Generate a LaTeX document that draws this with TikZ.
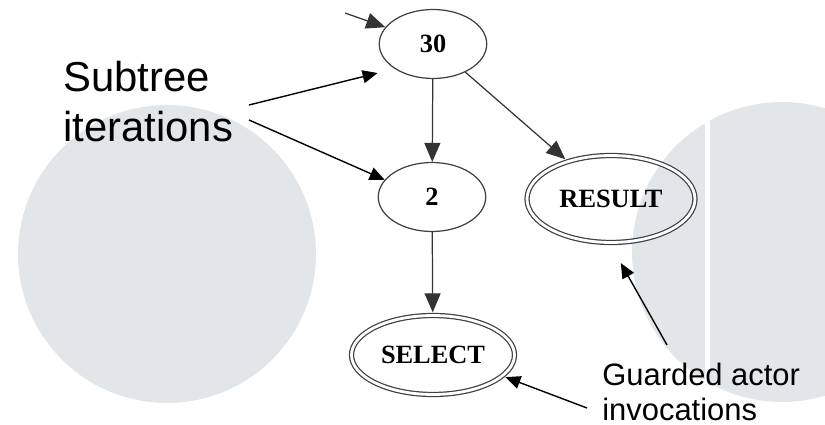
\documentclass[tikz,border=0pt]{standalone}
\usepackage{fontspec}
\setmainfont{Liberation Serif}
\setsansfont{Liberation Sans}
\usetikzlibrary{arrows.meta,shapes.geometric}
\definecolor{discgray}{HTML}{E2E6E9}

\begin{document}
\begin{tikzpicture}[x=0.02cm,y=-0.02cm]
\tikzset{
  itnode/.style={ellipse,draw=black!75,line width=0.7pt,minimum width=2.15cm,minimum height=1.38cm,inner sep=0pt,font=\fontsize{15}{17}\selectfont\bfseries},
  guardnode/.style={itnode,double=white,double distance=1.6pt,outer sep=1.8pt,minimum width=3.26cm,minimum height=1.58cm},
  flow/.style={-{Triangle[length=3.8mm,width=3.2mm]},draw=black!80,line width=0.7pt},
  note/.style={-{Triangle[length=3mm,width=2.6mm]},line width=0.8pt},
  bigtext/.style={font=\sffamily\fontsize{23.8}{28.5}\selectfont,align=left,inner sep=0pt,anchor=north west},
  smalltext/.style={font=\sffamily\fontsize{17.6}{20}\selectfont,align=left,inner sep=0pt,anchor=north west}
}
\useasboundingbox (0,0) rectangle (825,425);
% background discs
\fill[discgray] (167,254) circle[radius=2.98cm];
\fill[discgray] (782,252) circle[radius=3cm];
\fill[white] (705,95) rectangle (710,410);
% iteration tree
\node[itnode] (n_30) at (433,44) {30};
\node[itnode] (n_2) at (432,197) {2};
\node[guardnode,minimum width=3.36cm,minimum height=1.74cm] (n_result) at (611,199) {RESULT};
\node[guardnode] (n_select) at (433,355) {SELECT};
\coordinate (entry) at (345,13);
\draw[flow] (entry) -- (n_30);
\draw[flow] (n_30) -- (n_2);
\draw[flow] (n_30) -- (n_result);
\draw[flow] (n_2) -- (n_select);
% labels
\node[bigtext] (lbl_sub) at (63,61) {Subtree\\iterations};
\coordinate (sub_a) at (249,105);
\coordinate (sub_b) at (249,120);
\draw[note,shorten >=0.35cm] (sub_a) -- (n_30.south west);
\draw[note] (sub_b) -- (n_2.160);
\node[smalltext] (lbl_guard) at (602,363) {Guarded actor\\invocations};
\coordinate (guard_a) at (587,408);
\coordinate (guard_b) at (667,345);
\draw[note] (guard_a) -- (n_select.-17);
\draw[note,shorten >=0.4cm] (guard_b) -- (n_result.south);
\end{tikzpicture}
\end{document}
